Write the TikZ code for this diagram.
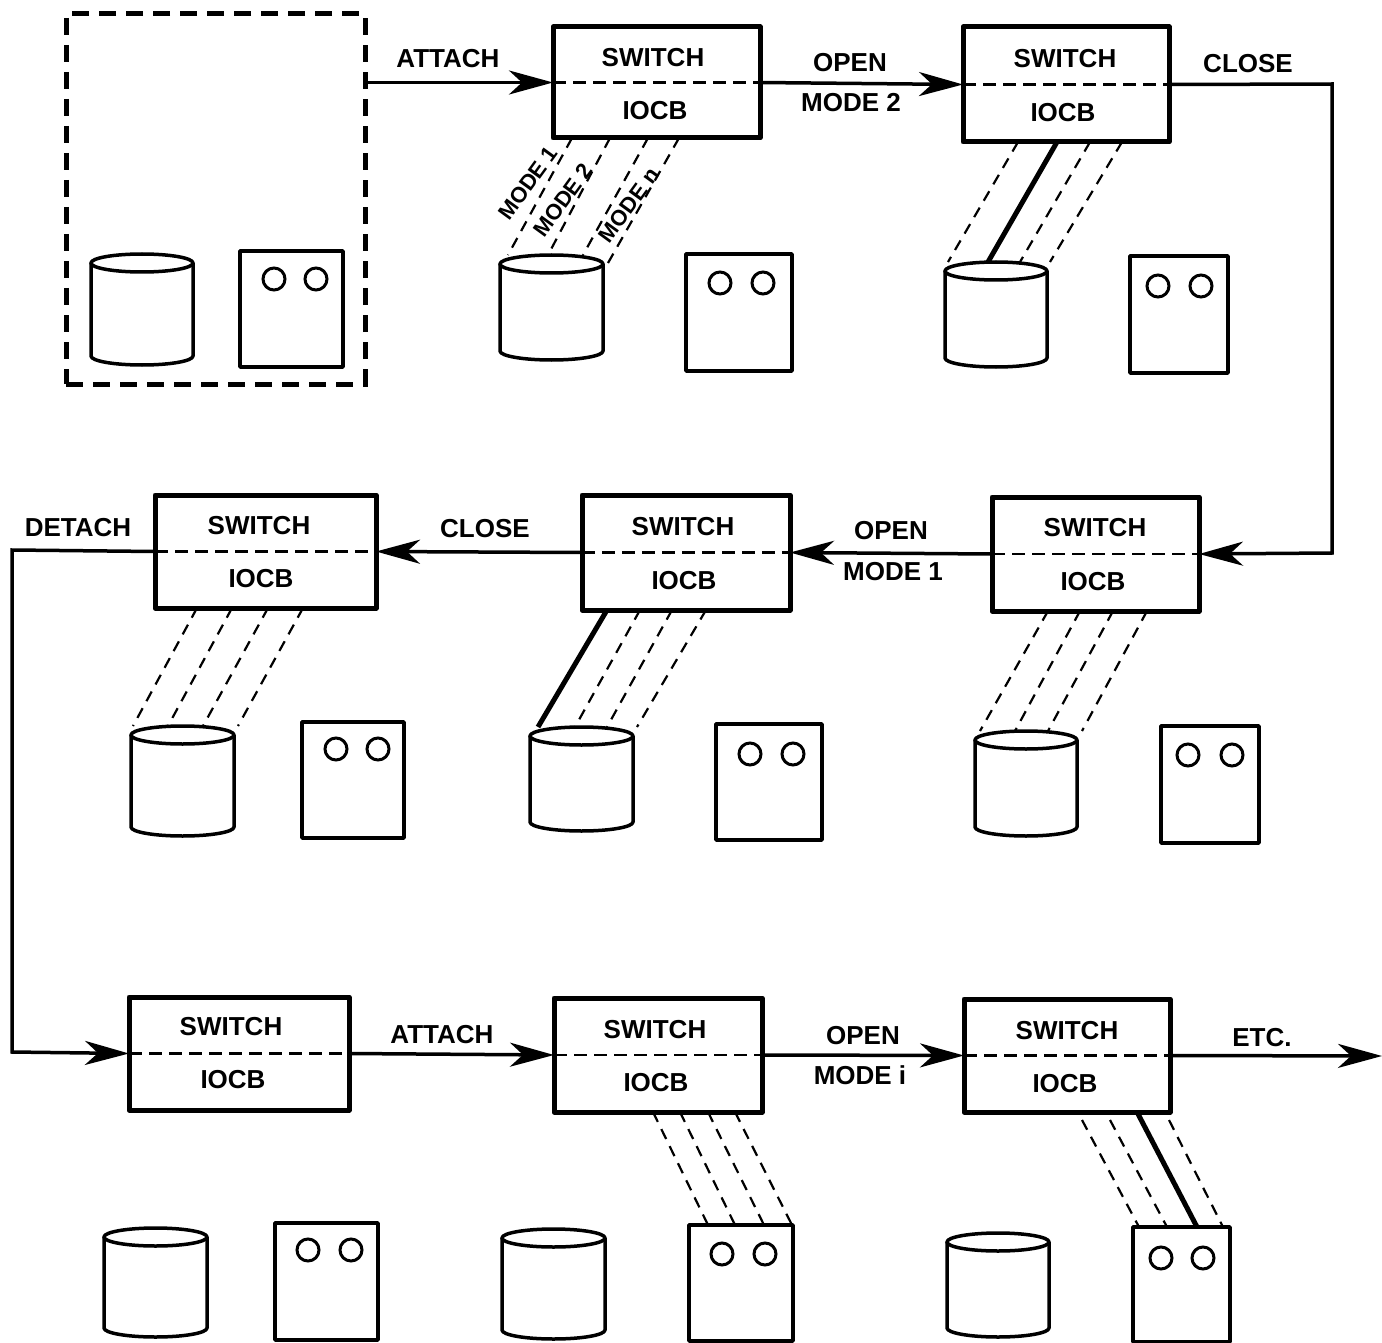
\documentclass[tikz,border=0pt]{standalone}
\usepackage{fontspec}
\setmainfont{Liberation Sans}
\usetikzlibrary{arrows.meta}
\tikzset{
  lab/.style={font=\fontsize{26}{30}\selectfont\bfseries,inner sep=0pt},
  smalllab/.style={font=\fontsize{22}{26}\selectfont\bfseries,inner sep=0pt,rotate=54},
  boxk/.style={draw,line width=5pt,inner sep=0pt,outer sep=0pt,line join=round},
  midline/.style={line width=2.5pt,dash pattern=on 13pt off 7pt},
  devk/.style={draw,line width=3.5pt,inner sep=0pt,outer sep=0pt,line join=round},
  drumempty/.style={inner sep=0pt,outer sep=0pt},
  drumline/.style={line width=3.5pt,line join=round},
  lampk/.style={line width=3pt},
  flow/.style={line width=3.5pt,-{Stealth[length=44pt,width=24pt,inset=13pt]}},
  link/.style={line width=2.2pt,dash pattern=on 11pt off 8pt},
  active/.style={line width=5pt},
  groupk/.style={draw,line width=5pt,dash pattern=on 17pt off 10pt,inner sep=0pt,outer sep=0pt}
}
% name, xl, yt, xr, yb, switch x, switch y, iocb x, iocb y
\newcommand\swbox[9]{%
  \node[boxk,minimum width={(#4-#2)*1pt},minimum height={(#5-#3)*1pt}] (#1) at ({(#2+#4)/2},{(#3+#5)/2}) {};
  \draw[midline] (#1.west) -- (#1.east);
  \node[lab] (#1s) at (#6,#7) {SWITCH};
  \node[lab] (#1i) at (#8,#9) {IOCB};
}
% name, xl, ytop, xr, ybot
\newcommand\drumk[5]{%
  \node[drumempty,minimum width={(#4-#2)*1pt},minimum height={(#5-#3)*1pt}] (#1) at ({(#2+#4)/2},{(#3+#5)/2}) {};
  \draw[drumline,fill=white] ([yshift=-9pt]#1.north west) -- ([yshift=9pt]#1.south west)
    arc[start angle=180,end angle=360,x radius={(#4-#2)*0.5pt},y radius=9pt]
    -- ([yshift=-9pt]#1.north east);
  \draw[drumline] ([yshift=-9pt]#1.north) ellipse[x radius={(#4-#2)*0.5pt},y radius=9pt];
}
% name, xl, yt, xr, yb, lamp1 x, lamp2 x, lamp y
\newcommand\panelk[8]{%
  \node[devk,minimum width={(#4-#2)*1pt},minimum height={(#5-#3)*1pt}] (#1) at ({(#2+#4)/2},{(#3+#5)/2}) {};
  \draw[lampk] (#6,#8) circle[radius=11pt];
  \draw[lampk] (#7,#8) circle[radius=11pt];
}
\begin{document}
\begin{tikzpicture}[x=1pt,y=-1pt]
\path[use as bounding box,fill=white] (0,0) rectangle (1382,1343);

\node[groupk,minimum width=299pt,minimum height=370pt] (G) at (215.5,199) {};

\swbox{B1}{553}{27}{760}{138}{653}{58}{655}{111}
\swbox{B2}{963}{27}{1169}{142}{1065}{59}{1063}{113}
\swbox{B3}{155}{495}{376}{608}{259}{526}{261}{579}
\swbox{B4}{582}{495}{790}{610}{683}{527}{684}{581}
\swbox{B5}{992}{497}{1199}{611}{1095}{528}{1093}{582}
\swbox{B6}{129}{997}{349}{1110}{231}{1027}{233}{1080}
\swbox{B7}{554}{998}{762}{1112}{655}{1030}{656}{1083}
\swbox{B8}{964}{999}{1170}{1112}{1067}{1031}{1065}{1084}

\drumk{D1}{91}{254}{193}{365}
\drumk{D2}{500}{255}{603}{360}
\drumk{D3}{945}{262}{1047}{367}
\drumk{D4}{131}{726}{234}{836}
\drumk{D5}{530}{727}{633}{831}
\drumk{D6}{975}{731}{1077}{836}
\drumk{D7}{104}{1228}{207}{1337}
\drumk{D8}{502}{1229}{605}{1339}
\drumk{D9}{947}{1233}{1049}{1337}

\panelk{P1}{240}{251}{343}{367}{274}{316}{279}
\panelk{P2}{686}{254}{792}{371}{720}{763}{283}
\panelk{P3}{1130}{256}{1228}{373}{1158}{1201}{286}
\panelk{P4}{302}{722}{404}{838}{336}{378}{749}
\panelk{P5}{716}{724}{822}{840}{750}{793}{754}
\panelk{P6}{1161}{726}{1259}{843}{1188}{1232}{755}
\panelk{P7}{275}{1223}{378}{1340}{308}{351}{1250}
\panelk{P8}{689}{1225}{793}{1341}{722}{765}{1254}
\panelk{P9}{1133}{1227}{1230}{1342}{1161}{1203}{1258}

% flow connectors
\coordinate (T1) at (1332,84);
\coordinate (T2) at (1332,553);
\coordinate (T3) at (12,550);
\coordinate (T4) at (12,1052);
\coordinate (ETCEND) at (1382,1056);
\draw[flow] (G.east |- B1.west) -- (B1.west);
\draw[flow] (B1.east) -- (B2.west);
\draw[flow] (B2.east) -- (T1) -- (T2) -- (B5.east);
\draw[flow] (B5.west) -- (B4.east);
\draw[flow] (B4.west) -- (B3.east);
\draw[flow] (B3.west) -- (T3) -- (T4) -- (B6.west);
\draw[flow] (B6.east) -- (B7.west);
\draw[flow] (B7.east) -- (B8.west);
\draw[flow] (B8.east) -- (ETCEND);

% mode links
\draw[link] ([xshift=19pt]B1.south west) -- ([xshift=8pt]D2.north west);
\draw[link] ([xshift=57pt]B1.south west) -- ([xshift=48pt]D2.north west);
\draw[link] ([xshift=95pt]B1.south west) -- ([xshift=83pt]D2.north west);
\draw[link] ([xshift=126pt]B1.south west) -- ([xshift=108pt,yshift=-8pt]D2.north west);

\draw[link] ([xshift=55pt]B2.south west) -- ([xshift=3pt]D3.north west);
\draw[active] ([xshift=94pt]B2.south west) -- ([xshift=43pt]D3.north west);
\draw[link] ([xshift=127pt]B2.south west) -- ([xshift=75pt]D3.north west);
\draw[link] ([xshift=159pt]B2.south west) -- ([xshift=105pt]D3.north west);

\draw[link] ([xshift=42pt]B3.south west) -- ([xshift=2pt]D4.north west);
\draw[link] ([xshift=77pt]B3.south west) -- ([xshift=37pt]D4.north west);
\draw[link] ([xshift=113pt]B3.south west) -- ([xshift=72pt]D4.north west);
\draw[link] ([xshift=148pt]B3.south west) -- ([xshift=107pt]D4.north west);

\draw[active] ([xshift=25pt]B4.south west) -- ([xshift=8pt]D5.north west);
\draw[link] ([xshift=58pt]B4.south west) -- ([xshift=45pt]D5.north west);
\draw[link] ([xshift=90pt]B4.south west) -- ([xshift=77pt]D5.north west);
\draw[link] ([xshift=124pt]B4.south west) -- ([xshift=107pt]D5.north west);

\draw[link] ([xshift=56pt]B5.south west) -- ([xshift=5pt]D6.north west);
\draw[link] ([xshift=88pt]B5.south west) -- ([xshift=40pt]D6.north west);
\draw[link] ([xshift=121pt]B5.south west) -- ([xshift=73pt]D6.north west);
\draw[link] ([xshift=155pt]B5.south west) -- ([xshift=107pt]D6.north west);

\draw[link] ([xshift=99pt]B7.south west) -- ([xshift=19pt]P8.north west);
\draw[link] ([xshift=126pt]B7.south west) -- ([xshift=46pt]P8.north west);
\draw[link] ([xshift=154pt]B7.south west) -- ([xshift=75pt]P8.north west);
\draw[link] ([xshift=181pt]B7.south west) -- ([xshift=103pt]P8.north west);

\draw[link] ([xshift=118pt,yshift=-8pt]B8.south west) -- ([xshift=6pt]P9.north west);
\draw[link] ([xshift=146pt,yshift=-8pt]B8.south west) -- ([xshift=34pt]P9.north west);
\draw[active] ([xshift=173pt]B8.south west) -- ([xshift=64pt]P9.north west);
\draw[link] ([xshift=205pt,yshift=-8pt]B8.south west) -- ([xshift=90pt]P9.north west);

% labels
\node[lab] (l1) at (448,59) {ATTACH};
\node[lab] (l2) at (850,63) {OPEN};
\node[lab] (l3) at (851,103) {MODE 2};
\node[lab] (l4) at (1248,64) {CLOSE};
\node[lab] (l5) at (891,531) {OPEN};
\node[lab] (l6) at (893,572) {MODE 1};
\node[lab] (l7) at (485,529) {CLOSE};
\node[lab] (l8) at (78,528) {DETACH};
\node[lab] (l9) at (442,1035) {ATTACH};
\node[lab] (l10) at (863,1036) {OPEN};
\node[lab] (l11) at (860,1075) {MODE i};
\node[lab] (l12) at (1262,1038) {ETC.};
\node[smalllab] (m1) at (528,183) {MODE 1};
\node[smalllab] (m2) at (563,200) {MODE 2};
\node[smalllab] (m3) at (629,205) {MODE n};
\end{tikzpicture}
\end{document}
